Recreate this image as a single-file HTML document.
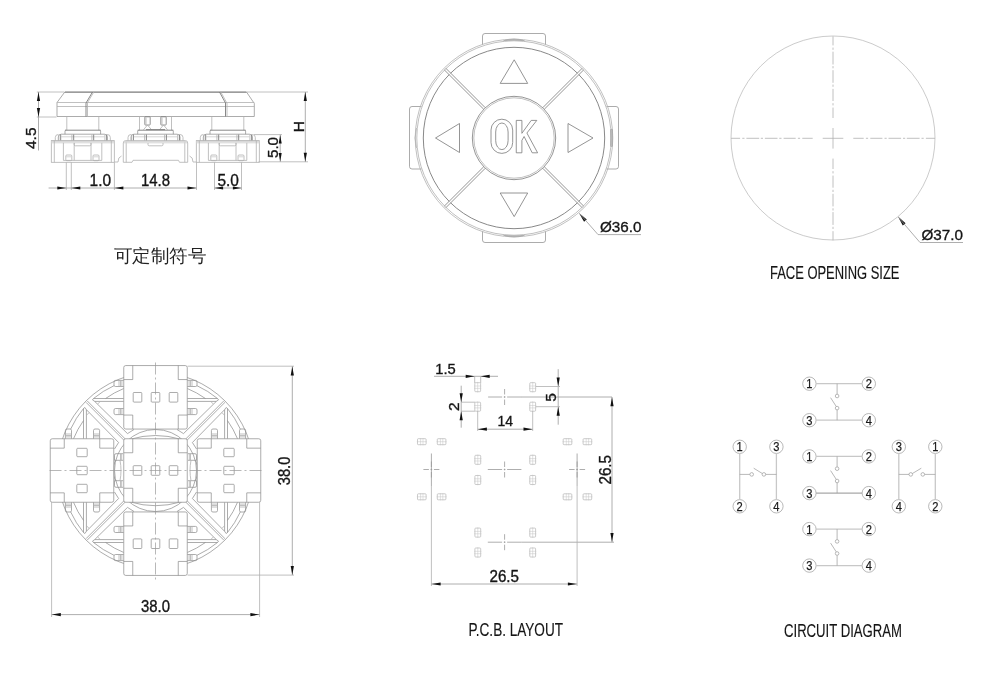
<!DOCTYPE html>
<html><head><meta charset="utf-8"><style>
html,body{margin:0;padding:0;background:#fff;width:1000px;height:676px;overflow:hidden}
svg{display:block;will-change:transform}
.ln,.lm,.ld,.lf,.lf2,.lf3,.cl,.cl2,.okt,.wh,.lp,.lp2,.lc,.lcc,.lw{fill:none}
.lp{stroke:#b4b4b4;stroke-width:0.7}
.lp2{stroke:#c4c4c4;stroke-width:0.5}
.lc{stroke:#999;stroke-width:0.8}
.lcc{stroke:#a0a0a0;stroke-width:0.75}
.lw2{fill:none;stroke:#a8a8a8;stroke-width:1.4}
.lw{stroke:#c8c8c8;stroke-width:1.3}
.lf3{stroke:#d4d4d4;stroke-width:1}
.lfc{fill:none;stroke:#b4b4b4;stroke-width:0.7}
.lbump{fill:#bbb;stroke:#999;stroke-width:0.5}
.tn{font-family:"Liberation Sans",sans-serif;fill:#1a1a1a;stroke:#1a1a1a;stroke-width:0.25}
.sw{fill:#fff;stroke:#888;stroke-width:0.7}
.cl2{stroke:#999;stroke-width:0.7;stroke-dasharray:12 3 2 3}
.wh{stroke:#fff;stroke-width:1.6}
.ln{stroke:#888;stroke-width:0.7}
.lm{stroke:#7a7a7a;stroke-width:0.8}
.ld{stroke:#7a7a7a;stroke-width:0.9}
.lf{stroke:#b0b0b0;stroke-width:0.8}
.lf2{stroke:#999;stroke-width:0.8}
.cl{stroke:#b0b0b0;stroke-width:0.8}
.ar{fill:#111;stroke:none}
.tx,.tt{font-family:"Liberation Sans",sans-serif;fill:#151515;stroke:#151515;stroke-width:0.35}
.tt{stroke-width:0.15}
.tc{font-family:"Liberation Serif",serif;fill:#222}
.okt{font-family:"Liberation Sans",sans-serif;stroke:#888;stroke-width:0.7}
</style></head><body>
<svg width="1000" height="676" viewBox="0 0 1000 676">
<path class="ln" d="M482.5 44.5 V36 Q482.5 33.5 485 33.5 H543 Q545.5 33.5 545.5 36 V44.5"/>
<path class="ln" d="M482.5 231.5 V240 Q482.5 242.5 485 242.5 H543 Q545.5 242.5 545.5 240 V231.5"/>
<path class="ln" d="M421.5 106.5 H412 Q409.5 106.5 409.5 109 V166.5 Q409.5 169 412 169 H421.5"/>
<path class="ln" d="M606.5 106.5 H616 Q618.5 106.5 618.5 109 V166.5 Q618.5 169 616 169 H606.5"/>
<circle class="lf" cx="514" cy="138" r="97.2"/>
<circle class="lf" cx="514" cy="138" r="98.8"/>
<path class="lbump" d="M503.5 40.8 Q514 37 524.5 40.8 Q514 39.6 503.5 40.8 Z"/>
<path class="lbump" d="M503.5 235.2 Q514 239 524.5 235.2 Q514 236.4 503.5 235.2 Z"/>
<rect class="lbump" x="610.6" y="129" width="1.9" height="17.6" rx="0.9"/>
<path class="lf" d="M416.5 128 Q413.6 138 416.5 148"/>
<circle class="ld" cx="514" cy="138" r="90.7"/>
<line class="wh" x1="543.7" y1="167.7" x2="582.24" y2="206.24"/>
<line class="lm" x1="544.26" y1="166.71" x2="583.72" y2="206.17"/>
<line class="lm" x1="542.71" y1="168.26" x2="582.17" y2="207.72"/>
<line class="wh" x1="484.3" y1="167.7" x2="445.76" y2="206.24"/>
<line class="lm" x1="485.29" y1="168.26" x2="445.83" y2="207.72"/>
<line class="lm" x1="483.74" y1="166.71" x2="444.28" y2="206.17"/>
<line class="wh" x1="484.3" y1="108.3" x2="445.76" y2="69.76"/>
<line class="lm" x1="483.74" y1="109.29" x2="444.28" y2="69.83"/>
<line class="lm" x1="485.29" y1="107.74" x2="445.83" y2="68.28"/>
<line class="wh" x1="543.7" y1="108.3" x2="582.24" y2="69.76"/>
<line class="lm" x1="542.71" y1="107.74" x2="582.17" y2="68.28"/>
<line class="lm" x1="544.26" y1="109.29" x2="583.72" y2="69.83"/>
<circle class="lm" cx="514" cy="138" r="41.7"/>
<circle class="lf" cx="514" cy="138" r="40.2"/>
<path class="lm" d="M514.2 59.8 L527.7 83.4 L500.2 83.4 Z"/>
<path class="lm" d="M514.2 216.6 L527.7 193 L500.2 193 Z"/>
<path class="lm" d="M435.5 138 L459.5 123.5 L459.5 152.5 Z"/>
<path class="lm" d="M593 138 L568 123.5 L568 152.5 Z"/>
<rect class="lm" x="491" y="119.2" width="21.7" height="34.2" rx="10.85"/>
<rect class="lm" x="495.7" y="123" width="12.4" height="26.6" rx="6.2" ry="9"/>
<path class="lm" d="M516.25 120.4 L521.9 120.4 L521.9 133.3 L531.2 120.4 L536.8 120.4 L526.9 133 L537.6 152.8 L532.2 152.8 L524.1 136.5 L521.9 140.4 L521.9 152.8 L516.25 152.8 Z"/>
<path class="ar" d="M579 213 L586.81 219.5 L584.05 221.82 Z"/>
<path class="lf2" d="M580 214 L598 234.6 L641 234.6"/>
<text class="tx" x="600" y="232.4" font-size="15.5" textLength="41.5" lengthAdjust="spacingAndGlyphs">Ø36.0</text>
<circle class="lfc" cx="833" cy="138" r="102"/>
<line class="cl" x1="822.7" y1="138.3" x2="843.3" y2="138.3"/>
<line class="cl" x1="833" y1="128" x2="833" y2="148.6"/>
<line class="cl" x1="853.3" y1="138.3" x2="863.7" y2="138.3"/>
<line class="cl" x1="833" y1="158.6" x2="833" y2="169"/>
<line class="cl" x1="812.7" y1="138.3" x2="802.3" y2="138.3"/>
<line class="cl" x1="833" y1="118" x2="833" y2="107.6"/>
<line class="cl" x1="865.9" y1="138.3" x2="868.1" y2="138.3"/>
<line class="cl" x1="833" y1="171.2" x2="833" y2="173.4"/>
<line class="cl" x1="800.1" y1="138.3" x2="797.9" y2="138.3"/>
<line class="cl" x1="833" y1="105.4" x2="833" y2="103.2"/>
<line class="cl" x1="870.3" y1="138.3" x2="882.4" y2="138.3"/>
<line class="cl" x1="833" y1="175.6" x2="833" y2="187.7"/>
<line class="cl" x1="795.7" y1="138.3" x2="783.6" y2="138.3"/>
<line class="cl" x1="833" y1="101" x2="833" y2="88.9"/>
<line class="cl" x1="884.5" y1="138.3" x2="886.7" y2="138.3"/>
<line class="cl" x1="833" y1="189.8" x2="833" y2="192"/>
<line class="cl" x1="781.5" y1="138.3" x2="779.3" y2="138.3"/>
<line class="cl" x1="833" y1="86.8" x2="833" y2="84.6"/>
<line class="cl" x1="888.5" y1="138.3" x2="901.1" y2="138.3"/>
<line class="cl" x1="833" y1="193.8" x2="833" y2="206.4"/>
<line class="cl" x1="777.5" y1="138.3" x2="764.9" y2="138.3"/>
<line class="cl" x1="833" y1="82.8" x2="833" y2="70.2"/>
<line class="cl" x1="903" y1="138.3" x2="905.2" y2="138.3"/>
<line class="cl" x1="833" y1="208.3" x2="833" y2="210.5"/>
<line class="cl" x1="763" y1="138.3" x2="760.8" y2="138.3"/>
<line class="cl" x1="833" y1="68.3" x2="833" y2="66.1"/>
<line class="cl" x1="906.8" y1="138.3" x2="919.6" y2="138.3"/>
<line class="cl" x1="833" y1="212.1" x2="833" y2="224.9"/>
<line class="cl" x1="759.2" y1="138.3" x2="746.4" y2="138.3"/>
<line class="cl" x1="833" y1="64.5" x2="833" y2="51.7"/>
<line class="cl" x1="921.5" y1="138.3" x2="923.7" y2="138.3"/>
<line class="cl" x1="833" y1="226.8" x2="833" y2="229"/>
<line class="cl" x1="744.5" y1="138.3" x2="742.3" y2="138.3"/>
<line class="cl" x1="833" y1="49.8" x2="833" y2="47.6"/>
<line class="cl" x1="925.9" y1="138.3" x2="935" y2="138.3"/>
<line class="cl" x1="833" y1="231.2" x2="833" y2="240.3"/>
<line class="cl" x1="740.1" y1="138.3" x2="731" y2="138.3"/>
<line class="cl" x1="833" y1="45.4" x2="833" y2="36.3"/>
<path class="ar" d="M898 216.5 L905.58 223.27 L902.74 225.49 Z"/>
<path class="lf2" d="M899 218 L920 242.5 L963 242.5"/>
<text class="tx" x="921.5" y="240" font-size="15.5" textLength="41.5" lengthAdjust="spacingAndGlyphs">Ø37.0</text>
<text class="tt" x="770" y="278.5" font-size="18" textLength="129.5" lengthAdjust="spacingAndGlyphs">FACE OPENING SIZE</text>
<path class="ln" d="M64.8 92 H246.5 L254.3 103.5 V116.5 H57 V102.5 Z"/>
<line class="lf" x1="57" y1="102.5" x2="254.3" y2="102.5"/>
<line class="lf" x1="57" y1="106.5" x2="254.3" y2="106.5"/>
<line class="ld" x1="64.8" y1="92.2" x2="246.5" y2="92.2"/>
<path class="ld" d="M92.5 92 L86 103"/>
<path class="lf" d="M93.8 92 L87.3 103"/>
<line class="ld" x1="86" y1="103" x2="86" y2="116.5"/>
<line class="lf" x1="87.5" y1="103" x2="87.5" y2="116.5"/>
<path class="ld" d="M219.5 92 L225.5 103"/>
<path class="lf" d="M220.8 92 L226.8 103"/>
<line class="ld" x1="225.5" y1="103" x2="225.5" y2="116.5"/>
<line class="lf" x1="227" y1="103" x2="227" y2="116.5"/>
<line class="lf" x1="66.8" y1="116.5" x2="66.8" y2="130.3"/>
<line class="lf" x1="98.8" y1="116.5" x2="98.8" y2="130.3"/>
<line class="ld" x1="65" y1="130.2" x2="100.6" y2="130.2"/>
<path class="ln" d="M65 134.2 V131 Q65 130.3 65.8 130.3 M99.8 130.3 Q100.6 130.3 100.6 131 V134.2"/>
<path class="ln" d="M58.3 140.6 V137 Q58.3 134.2 61.3 134.2 H104.3 Q107.3 134.2 107.3 137 V140.6"/>
<path class="lf" d="M55.3 140.6 V137.5 Q55.3 134.5 58.3 134.5"/>
<path class="lf" d="M110.3 140.6 V137.5 Q110.3 134.5 107.3 134.5"/>
<line class="lf3" x1="61.3" y1="136.8" x2="104.3" y2="136.8"/>
<line class="lf" x1="58.9" y1="134.5" x2="58.9" y2="140.6"/>
<line class="ld" x1="60.7" y1="134.5" x2="60.7" y2="140.6"/>
<line class="lf" x1="71.9" y1="134.5" x2="71.9" y2="140.6"/>
<line class="ld" x1="73.7" y1="134.5" x2="73.7" y2="140.6"/>
<line class="lf" x1="91.9" y1="134.5" x2="91.9" y2="140.6"/>
<line class="ld" x1="93.7" y1="134.5" x2="93.7" y2="140.6"/>
<line class="lf" x1="104.9" y1="134.5" x2="104.9" y2="140.6"/>
<line class="ld" x1="106.7" y1="134.5" x2="106.7" y2="140.6"/>
<rect class="lf" x="51.3" y="140.6" width="63" height="21.7"/>
<line class="lf3" x1="51.3" y1="142.8" x2="114.3" y2="142.8"/>
<line class="lf3" x1="51.3" y1="141.6" x2="114.3" y2="141.6"/>
<line class="lf" x1="54.3" y1="140.6" x2="54.3" y2="162.3"/>
<line class="lf" x1="111.3" y1="140.6" x2="111.3" y2="162.3"/>
<line class="lf" x1="63.4" y1="142.8" x2="63.4" y2="160.4"/>
<line class="lf" x1="74.2" y1="142.8" x2="74.2" y2="160.4"/>
<line class="lf" x1="91" y1="142.8" x2="91" y2="160.4"/>
<line class="lf" x1="101.8" y1="142.8" x2="101.8" y2="160.4"/>
<line class="lf" x1="63.4" y1="160.4" x2="101.8" y2="160.4"/>
<path class="lf" d="M74.2 143 V144.6 Q74.2 145.8 75.4 145.8 H89.8 Q91 145.8 91 144.6 V143"/>
<rect class="lf" x="65.8" y="155" width="6" height="5.7" rx="1"/>
<line class="lf3" x1="65.8" y1="156.8" x2="71.8" y2="156.8"/>
<rect class="lf" x="93" y="155" width="6" height="5.7" rx="1"/>
<line class="lf3" x1="93" y1="156.8" x2="99" y2="156.8"/>
<line class="lf" x1="139.5" y1="116.5" x2="139.5" y2="130.3"/>
<line class="lf" x1="171.5" y1="116.5" x2="171.5" y2="130.3"/>
<line class="ld" x1="137.7" y1="130.2" x2="173.3" y2="130.2"/>
<path class="ln" d="M137.7 134.2 V131 Q137.7 130.3 138.5 130.3 M172.5 130.3 Q173.3 130.3 173.3 131 V134.2"/>
<path class="ln" d="M131 140.6 V137 Q131 134.2 134 134.2 H177 Q180 134.2 180 137 V140.6"/>
<path class="lf" d="M128 140.6 V137.5 Q128 134.5 131 134.5"/>
<path class="lf" d="M183 140.6 V137.5 Q183 134.5 180 134.5"/>
<line class="lf3" x1="134" y1="136.8" x2="177" y2="136.8"/>
<line class="lf" x1="131.6" y1="134.5" x2="131.6" y2="140.6"/>
<line class="ld" x1="133.4" y1="134.5" x2="133.4" y2="140.6"/>
<line class="lf" x1="144.6" y1="134.5" x2="144.6" y2="140.6"/>
<line class="ld" x1="146.4" y1="134.5" x2="146.4" y2="140.6"/>
<line class="lf" x1="164.6" y1="134.5" x2="164.6" y2="140.6"/>
<line class="ld" x1="166.4" y1="134.5" x2="166.4" y2="140.6"/>
<line class="lf" x1="177.6" y1="134.5" x2="177.6" y2="140.6"/>
<line class="ld" x1="179.4" y1="134.5" x2="179.4" y2="140.6"/>
<path class="lf" d="M123.3 162.3 V143 Q123.3 140.6 125.7 140.6 H185.3 Q187.7 140.6 187.7 143 V162.3 H179.5 L178.5 160.3 H133 L132 162.3 Z"/>
<line class="lf" x1="126.2" y1="141.5" x2="126.2" y2="162.3"/>
<line class="lf" x1="184.8" y1="141.5" x2="184.8" y2="162.3"/>
<line class="lf3" x1="124" y1="142.8" x2="187" y2="142.8"/>
<line class="lf3" x1="124" y1="141.6" x2="187" y2="141.6"/>
<path class="lf" d="M148 143 V144.6 Q148 145.8 149.2 145.8 H161.8 Q163 145.8 163 144.6 V143"/>
<line class="lf" x1="211.8" y1="116.5" x2="211.8" y2="130.3"/>
<line class="lf" x1="243.8" y1="116.5" x2="243.8" y2="130.3"/>
<line class="ld" x1="210" y1="130.2" x2="245.6" y2="130.2"/>
<path class="ln" d="M210 134.2 V131 Q210 130.3 210.8 130.3 M244.8 130.3 Q245.6 130.3 245.6 131 V134.2"/>
<path class="ln" d="M203.3 140.6 V137 Q203.3 134.2 206.3 134.2 H249.3 Q252.3 134.2 252.3 137 V140.6"/>
<path class="lf" d="M200.3 140.6 V137.5 Q200.3 134.5 203.3 134.5"/>
<path class="lf" d="M255.3 140.6 V137.5 Q255.3 134.5 252.3 134.5"/>
<line class="lf3" x1="206.3" y1="136.8" x2="249.3" y2="136.8"/>
<line class="lf" x1="203.9" y1="134.5" x2="203.9" y2="140.6"/>
<line class="ld" x1="205.7" y1="134.5" x2="205.7" y2="140.6"/>
<line class="lf" x1="216.9" y1="134.5" x2="216.9" y2="140.6"/>
<line class="ld" x1="218.7" y1="134.5" x2="218.7" y2="140.6"/>
<line class="lf" x1="236.9" y1="134.5" x2="236.9" y2="140.6"/>
<line class="ld" x1="238.7" y1="134.5" x2="238.7" y2="140.6"/>
<line class="lf" x1="249.9" y1="134.5" x2="249.9" y2="140.6"/>
<line class="ld" x1="251.7" y1="134.5" x2="251.7" y2="140.6"/>
<rect class="lf" x="196.3" y="140.6" width="63" height="21.7"/>
<line class="lf3" x1="196.3" y1="142.8" x2="259.3" y2="142.8"/>
<line class="lf3" x1="196.3" y1="141.6" x2="259.3" y2="141.6"/>
<line class="lf" x1="199.3" y1="140.6" x2="199.3" y2="162.3"/>
<line class="lf" x1="256.3" y1="140.6" x2="256.3" y2="162.3"/>
<line class="lf" x1="208.4" y1="142.8" x2="208.4" y2="160.4"/>
<line class="lf" x1="219.2" y1="142.8" x2="219.2" y2="160.4"/>
<line class="lf" x1="236" y1="142.8" x2="236" y2="160.4"/>
<line class="lf" x1="246.8" y1="142.8" x2="246.8" y2="160.4"/>
<line class="lf" x1="208.4" y1="160.4" x2="246.8" y2="160.4"/>
<path class="lf" d="M219.2 143 V144.6 Q219.2 145.8 220.4 145.8 H234.8 Q236 145.8 236 144.6 V143"/>
<rect class="lf" x="210.8" y="155" width="6" height="5.7" rx="1"/>
<line class="lf3" x1="210.8" y1="156.8" x2="216.8" y2="156.8"/>
<rect class="lf" x="238" y="155" width="6" height="5.7" rx="1"/>
<line class="lf3" x1="238" y1="156.8" x2="244" y2="156.8"/>
<rect class="lm" x="144.8" y="116.8" width="5.4" height="8.2" rx="0.6"/>
<line class="lf" x1="146" y1="117.5" x2="146" y2="124.5"/>
<path class="lf" d="M143 130.3 L147.5 125 L152 130.3"/>
<rect class="lm" x="160.8" y="116.8" width="5.4" height="8.2" rx="0.6"/>
<line class="lf" x1="162" y1="117.5" x2="162" y2="124.5"/>
<path class="lf" d="M159 130.3 L163.5 125 L168 130.3"/>
<line class="ld" x1="146" y1="129.6" x2="165" y2="129.6"/>
<path class="lf" d="M114.4 162 H118 Q118 157 121.5 156"/>
<path class="lf" d="M196.5 162 H193 Q193 157 189.5 156"/>
<line class="lf" x1="66.3" y1="162.3" x2="66.3" y2="190"/>
<line class="lf" x1="71.3" y1="162.3" x2="71.3" y2="190"/>
<line class="lf" x1="36.8" y1="92" x2="64" y2="92"/>
<line class="lf" x1="36.8" y1="117" x2="56.5" y2="117"/>
<line class="lf2" x1="38.5" y1="92" x2="38.5" y2="150.5"/>
<path class="ar" d="M38.5 92 L40.1 101 L36.9 101 Z"/>
<path class="ar" d="M38.5 117 L36.9 108 L40.1 108 Z"/>
<text class="tx" x="36.2" y="149" font-size="15.5" textLength="21.5" lengthAdjust="spacingAndGlyphs" transform="rotate(-90 36.2 149)">4.5</text>
<line class="lf" x1="247" y1="92" x2="308" y2="92"/>
<line class="lf" x1="258.5" y1="161.8" x2="308" y2="161.8"/>
<line class="lf2" x1="305.3" y1="92" x2="305.3" y2="161.8"/>
<path class="ar" d="M305.3 92 L306.9 101 L303.7 101 Z"/>
<path class="ar" d="M305.3 161.8 L303.7 152.8 L306.9 152.8 Z"/>
<text class="tx" x="303.6" y="132.2" font-size="15.5" transform="rotate(-90 303.6 132.2)">H</text>
<line class="lf" x1="254" y1="134.6" x2="282" y2="134.6"/>
<line class="lf2" x1="280.2" y1="134.6" x2="280.2" y2="161.8"/>
<path class="ar" d="M280.2 135 L281.7 143.5 L278.7 143.5 Z"/>
<path class="ar" d="M280.2 161.4 L278.7 152.9 L281.7 152.9 Z"/>
<text class="tx" x="277.8" y="158" font-size="15.5" textLength="21" lengthAdjust="spacingAndGlyphs" transform="rotate(-90 277.8 158)">5.0</text>
<line class="lf" x1="114.4" y1="162.3" x2="114.4" y2="190"/>
<line class="lf" x1="196.5" y1="162.3" x2="196.5" y2="190"/>
<line class="lf" x1="214.5" y1="162.3" x2="214.5" y2="190"/>
<line class="lf" x1="241.5" y1="162.3" x2="241.5" y2="190"/>
<line class="lf2" x1="48.6" y1="188" x2="196.5" y2="188"/>
<path class="ar" d="M66.3 188 L57.3 189.6 L57.3 186.4 Z"/>
<path class="ar" d="M71.3 188 L80.3 186.4 L80.3 189.6 Z"/>
<path class="ar" d="M114.4 188 L123.4 186.4 L123.4 189.6 Z"/>
<path class="ar" d="M196.5 188 L187.5 189.6 L187.5 186.4 Z"/>
<line class="lf2" x1="214.5" y1="188" x2="241.5" y2="188"/>
<path class="ar" d="M214.5 188 L223.1 186.4 L223.1 189.6 Z"/>
<path class="ar" d="M241.5 188 L232.9 189.6 L232.9 186.4 Z"/>
<text class="tx" x="89.6" y="185.7" font-size="16" textLength="21.5" lengthAdjust="spacingAndGlyphs">1.0</text>
<text class="tx" x="141" y="185.7" font-size="16" textLength="29" lengthAdjust="spacingAndGlyphs">14.8</text>
<text class="tx" x="217.4" y="185.6" font-size="16" textLength="21.5" lengthAdjust="spacingAndGlyphs">5.0</text>
<g transform="translate(155.5 470.5)">
<defs><g id="oct">
<line class="ln" x1="-72" y1="-62" x2="-72" y2="-31.75"/>
<line class="ln" x1="-69.1" y1="-60.8" x2="-69.1" y2="-31.75"/>
<path class="ln" d="M-72 -62 L-70.6 -63 L-69.1 -60.8"/>
<path class="ln" d="M-69.1 -60.8 L-36.9 -28 L-41 -21.5"/>
<line class="lf" x1="-68.8" y1="-55.5" x2="-66.5" y2="-57.8"/>
<path class="ln" d="M-69.5 -68.2 L-30.6 -29.3"/>
<path class="ln" d="M-72 -62 A94.3 94.3 0 0 0 -84.8 -41.5"/>
<path class="ln" d="M-72 -49.9 A87.7 87.7 0 0 0 -82 -31.75"/>
<path class="ln" d="M-90.1 -31.75 V-40 Q-90.1 -41.5 -88.6 -41.5 H-85.5 Q-84 -41.5 -84 -40 V-31.75"/>
<line class="lf" x1="-90.1" y1="-36.5" x2="-84" y2="-36.5"/>
<line class="lf" x1="-90.1" y1="-35" x2="-84" y2="-35"/>
<line class="lf" x1="-90.1" y1="-33.6" x2="-84" y2="-33.6"/>
<path class="ln" d="M-62 -31.75 V-40 Q-62 -41.5 -60.5 -41.5 H-57.4 Q-55.9 -41.5 -55.9 -40 V-31.75"/>
<line class="lf" x1="-62" y1="-36.5" x2="-55.9" y2="-36.5"/>
<line class="lf" x1="-62" y1="-35" x2="-55.9" y2="-35"/>
<line class="lf" x1="-62" y1="-33.6" x2="-55.9" y2="-33.6"/>
</g>
<g id="cclip">
<path class="ln" d="M-32.5 -16.8 H-39.5 Q-41 -16.8 -41 -15.3 V-10.2 H-32.5"/>
<line class="lf" x1="-35" y1="-16.5" x2="-35" y2="-10.5"/>
<line class="lf" x1="-33.8" y1="-16.5" x2="-33.8" y2="-10.5"/>
<path class="ln" d="M-40.3 -10.2 Q-42 -5 -42 0"/>
<path class="lf" d="M-35.5 -10.2 Q-34.5 -5 -34.5 0"/>
</g></defs>
<use href="#cclip" transform=""/>
<use href="#cclip" transform="matrix(1 0 0 -1 0 0)"/>
<use href="#cclip" transform="rotate(180)"/>
<use href="#cclip" transform="rotate(180) matrix(1 0 0 -1 0 0)"/>
<use href="#oct" transform="rotate(0)"/>
<use href="#oct" transform="rotate(0) matrix(0 1 1 0 0 0)"/>
<use href="#oct" transform="rotate(90)"/>
<use href="#oct" transform="rotate(90) matrix(0 1 1 0 0 0)"/>
<use href="#oct" transform="rotate(180)"/>
<use href="#oct" transform="rotate(180) matrix(0 1 1 0 0 0)"/>
<use href="#oct" transform="rotate(270)"/>
<use href="#oct" transform="rotate(270) matrix(0 1 1 0 0 0)"/>
<circle class="ln" cx="0" cy="0" r="98.3"/>
<circle class="ln" cx="0" cy="0" r="41"/>
<path class="ln" d="M-25 -31.3 Q0 -38.7 25 -31.3"/>
<path class="ln" d="M-25 31.5 Q0 38.9 25 31.5"/>
<g transform="translate(-73.5 0)">
<rect class="sw" x="-31.75" y="-31.75" width="63.5" height="63.5" rx="2"/>
<path class="ln" d="M-17.75 -31.75 L-17.75 -22.35 L-31.75 -22.35"/>
<path class="ln" d="M-17.75 31.75 L-17.75 22.35 L-31.75 22.35"/>
<path class="ln" d="M17.75 -31.75 L17.75 -22.35 L31.75 -22.35"/>
<path class="ln" d="M17.75 31.75 L17.75 22.35 L31.75 22.35"/>
<rect class="ln" x="-5.2" y="-22.2" width="10.4" height="8.4" rx="0.8"/>
<rect class="ln" x="-5.2" y="-4.2" width="10.4" height="8.4" rx="0.8"/>
<rect class="ln" x="-5.2" y="13.8" width="10.4" height="8.4" rx="0.8"/>
</g>
<g transform="translate(73.5 0)">
<rect class="sw" x="-31.75" y="-31.75" width="63.5" height="63.5" rx="2"/>
<path class="ln" d="M-17.75 -31.75 L-17.75 -22.35 L-31.75 -22.35"/>
<path class="ln" d="M-17.75 31.75 L-17.75 22.35 L-31.75 22.35"/>
<path class="ln" d="M17.75 -31.75 L17.75 -22.35 L31.75 -22.35"/>
<path class="ln" d="M17.75 31.75 L17.75 22.35 L31.75 22.35"/>
<rect class="ln" x="-5.2" y="-22.2" width="10.4" height="8.4" rx="0.8"/>
<rect class="ln" x="-5.2" y="-4.2" width="10.4" height="8.4" rx="0.8"/>
<rect class="ln" x="-5.2" y="13.8" width="10.4" height="8.4" rx="0.8"/>
</g>
<g transform="translate(0 -73.2)">
<rect class="sw" x="-31.75" y="-31.75" width="63.5" height="63.5" rx="2"/>
<path class="ln" d="M-22.75 -31.75 L-22.75 -17.75 L-31.75 -17.75"/>
<path class="ln" d="M-22.75 31.75 L-22.75 17.75 L-31.75 17.75"/>
<path class="ln" d="M22.75 -31.75 L22.75 -17.75 L31.75 -17.75"/>
<path class="ln" d="M22.75 31.75 L22.75 17.75 L31.75 17.75"/>
<rect class="ln" x="-22.3" y="-4.8" width="8.6" height="9.6" rx="0.8"/>
<rect class="ln" x="-4.3" y="-4.8" width="8.6" height="9.6" rx="0.8"/>
<rect class="ln" x="13.7" y="-4.8" width="8.6" height="9.6" rx="0.8"/>
</g>
<g transform="translate(0 73.2)">
<rect class="sw" x="-31.75" y="-31.75" width="63.5" height="63.5" rx="2"/>
<path class="ln" d="M-22.75 -31.75 L-22.75 -17.75 L-31.75 -17.75"/>
<path class="ln" d="M-22.75 31.75 L-22.75 17.75 L-31.75 17.75"/>
<path class="ln" d="M22.75 -31.75 L22.75 -17.75 L31.75 -17.75"/>
<path class="ln" d="M22.75 31.75 L22.75 17.75 L31.75 17.75"/>
<rect class="ln" x="-22.3" y="-4.8" width="8.6" height="9.6" rx="0.8"/>
<rect class="ln" x="-4.3" y="-4.8" width="8.6" height="9.6" rx="0.8"/>
<rect class="ln" x="13.7" y="-4.8" width="8.6" height="9.6" rx="0.8"/>
</g>
<g transform="translate(0 0)">
<rect class="sw" x="-31.75" y="-31.75" width="63.5" height="63.5" rx="2"/>
<path class="ln" d="M-22.75 -31.75 L-22.75 -17.75 L-31.75 -17.75"/>
<path class="ln" d="M-22.75 31.75 L-22.75 17.75 L-31.75 17.75"/>
<path class="ln" d="M22.75 -31.75 L22.75 -17.75 L31.75 -17.75"/>
<path class="ln" d="M22.75 31.75 L22.75 17.75 L31.75 17.75"/>
<rect class="ln" x="-22.3" y="-4.8" width="8.6" height="9.6" rx="0.8"/>
<rect class="ln" x="-4.3" y="-4.8" width="8.6" height="9.6" rx="0.8"/>
<rect class="ln" x="13.7" y="-4.8" width="8.6" height="9.6" rx="0.8"/>
</g>
<line class="cl2" x1="-106" y1="0" x2="106" y2="0"/>
<line class="cl2" x1="0" y1="-108" x2="0" y2="109"/>
</g>
<line class="lf" x1="187.6" y1="366.2" x2="294" y2="366.2"/>
<line class="lf" x1="187.6" y1="575.1" x2="294" y2="575.1"/>
<line class="lf2" x1="292.3" y1="366.2" x2="292.3" y2="575.1"/>
<path class="ar" d="M292.3 366.4 L293.9 375.4 L290.7 375.4 Z"/>
<path class="ar" d="M292.3 574.9 L290.7 565.9 L293.9 565.9 Z"/>
<text class="tx" x="290.4" y="485.2" font-size="16.5" textLength="28.5" lengthAdjust="spacingAndGlyphs" transform="rotate(-90 290.4 485.2)">38.0</text>
<line class="lf" x1="51.6" y1="502" x2="51.6" y2="617"/>
<line class="lf" x1="259.6" y1="502" x2="259.6" y2="617"/>
<line class="lf2" x1="51.6" y1="614.6" x2="259.6" y2="614.6"/>
<path class="ar" d="M51.8 614.6 L60.8 613 L60.8 616.2 Z"/>
<path class="ar" d="M259.4 614.6 L250.4 616.2 L250.4 613 Z"/>
<text class="tx" x="141" y="612" font-size="16.5" textLength="29" lengthAdjust="spacingAndGlyphs">38.0</text>
<rect class="lp" x="474.8" y="382.7" width="5.8" height="9" rx="0.8"/>
<line class="lp2" x1="477.7" y1="381.9" x2="477.7" y2="392.5"/>
<line class="lp2" x1="474.1" y1="386" x2="481.3" y2="386"/>
<line class="lp2" x1="474.1" y1="388.4" x2="481.3" y2="388.4"/>
<rect class="lp" x="474.8" y="402.2" width="5.8" height="9" rx="0.8"/>
<line class="lp2" x1="477.7" y1="401.4" x2="477.7" y2="412"/>
<line class="lp2" x1="474.1" y1="405.5" x2="481.3" y2="405.5"/>
<line class="lp2" x1="474.1" y1="407.9" x2="481.3" y2="407.9"/>
<rect class="lp" x="529.8" y="382.7" width="5.8" height="9" rx="0.8"/>
<line class="lp2" x1="532.7" y1="381.9" x2="532.7" y2="392.5"/>
<line class="lp2" x1="529.1" y1="386" x2="536.3" y2="386"/>
<line class="lp2" x1="529.1" y1="388.4" x2="536.3" y2="388.4"/>
<rect class="lp" x="529.8" y="402.2" width="5.8" height="9" rx="0.8"/>
<line class="lp2" x1="532.7" y1="401.4" x2="532.7" y2="412"/>
<line class="lp2" x1="529.1" y1="405.5" x2="536.3" y2="405.5"/>
<line class="lp2" x1="529.1" y1="407.9" x2="536.3" y2="407.9"/>
<rect class="lp" x="474.9" y="455.3" width="5.8" height="9" rx="0.8"/>
<line class="lp2" x1="477.8" y1="454.5" x2="477.8" y2="465.1"/>
<line class="lp2" x1="474.2" y1="458.6" x2="481.4" y2="458.6"/>
<line class="lp2" x1="474.2" y1="461" x2="481.4" y2="461"/>
<rect class="lp" x="474.9" y="475.5" width="5.8" height="9" rx="0.8"/>
<line class="lp2" x1="477.8" y1="474.7" x2="477.8" y2="485.3"/>
<line class="lp2" x1="474.2" y1="478.8" x2="481.4" y2="478.8"/>
<line class="lp2" x1="474.2" y1="481.2" x2="481.4" y2="481.2"/>
<rect class="lp" x="529.8" y="455.3" width="5.8" height="9" rx="0.8"/>
<line class="lp2" x1="532.7" y1="454.5" x2="532.7" y2="465.1"/>
<line class="lp2" x1="529.1" y1="458.6" x2="536.3" y2="458.6"/>
<line class="lp2" x1="529.1" y1="461" x2="536.3" y2="461"/>
<rect class="lp" x="529.8" y="475.5" width="5.8" height="9" rx="0.8"/>
<line class="lp2" x1="532.7" y1="474.7" x2="532.7" y2="485.3"/>
<line class="lp2" x1="529.1" y1="478.8" x2="536.3" y2="478.8"/>
<line class="lp2" x1="529.1" y1="481.2" x2="536.3" y2="481.2"/>
<rect class="lp" x="474.9" y="528.1" width="5.8" height="9" rx="0.8"/>
<line class="lp2" x1="477.8" y1="527.3" x2="477.8" y2="537.9"/>
<line class="lp2" x1="474.2" y1="531.4" x2="481.4" y2="531.4"/>
<line class="lp2" x1="474.2" y1="533.8" x2="481.4" y2="533.8"/>
<rect class="lp" x="474.9" y="548" width="5.8" height="9" rx="0.8"/>
<line class="lp2" x1="477.8" y1="547.2" x2="477.8" y2="557.8"/>
<line class="lp2" x1="474.2" y1="551.3" x2="481.4" y2="551.3"/>
<line class="lp2" x1="474.2" y1="553.7" x2="481.4" y2="553.7"/>
<rect class="lp" x="529.8" y="528.1" width="5.8" height="9" rx="0.8"/>
<line class="lp2" x1="532.7" y1="527.3" x2="532.7" y2="537.9"/>
<line class="lp2" x1="529.1" y1="531.4" x2="536.3" y2="531.4"/>
<line class="lp2" x1="529.1" y1="533.8" x2="536.3" y2="533.8"/>
<rect class="lp" x="529.8" y="548" width="5.8" height="9" rx="0.8"/>
<line class="lp2" x1="532.7" y1="547.2" x2="532.7" y2="557.8"/>
<line class="lp2" x1="529.1" y1="551.3" x2="536.3" y2="551.3"/>
<line class="lp2" x1="529.1" y1="553.7" x2="536.3" y2="553.7"/>
<rect class="lp" x="417.5" y="438.7" width="8.6" height="6" rx="0.8"/>
<line class="lp2" x1="416.8" y1="441.7" x2="426.8" y2="441.7"/>
<line class="lp2" x1="420.6" y1="438.1" x2="420.6" y2="445.3"/>
<line class="lp2" x1="423" y1="438.1" x2="423" y2="445.3"/>
<rect class="lp" x="417.5" y="493.8" width="8.6" height="6" rx="0.8"/>
<line class="lp2" x1="416.8" y1="496.8" x2="426.8" y2="496.8"/>
<line class="lp2" x1="420.6" y1="493.2" x2="420.6" y2="500.4"/>
<line class="lp2" x1="423" y1="493.2" x2="423" y2="500.4"/>
<rect class="lp" x="437.3" y="438.7" width="8.6" height="6" rx="0.8"/>
<line class="lp2" x1="436.6" y1="441.7" x2="446.6" y2="441.7"/>
<line class="lp2" x1="440.4" y1="438.1" x2="440.4" y2="445.3"/>
<line class="lp2" x1="442.8" y1="438.1" x2="442.8" y2="445.3"/>
<rect class="lp" x="437.3" y="493.8" width="8.6" height="6" rx="0.8"/>
<line class="lp2" x1="436.6" y1="496.8" x2="446.6" y2="496.8"/>
<line class="lp2" x1="440.4" y1="493.2" x2="440.4" y2="500.4"/>
<line class="lp2" x1="442.8" y1="493.2" x2="442.8" y2="500.4"/>
<rect class="lp" x="563.2" y="438.7" width="8.6" height="6" rx="0.8"/>
<line class="lp2" x1="562.5" y1="441.7" x2="572.5" y2="441.7"/>
<line class="lp2" x1="566.3" y1="438.1" x2="566.3" y2="445.3"/>
<line class="lp2" x1="568.7" y1="438.1" x2="568.7" y2="445.3"/>
<rect class="lp" x="563.2" y="493.8" width="8.6" height="6" rx="0.8"/>
<line class="lp2" x1="562.5" y1="496.8" x2="572.5" y2="496.8"/>
<line class="lp2" x1="566.3" y1="493.2" x2="566.3" y2="500.4"/>
<line class="lp2" x1="568.7" y1="493.2" x2="568.7" y2="500.4"/>
<rect class="lp" x="583.1" y="438.7" width="8.6" height="6" rx="0.8"/>
<line class="lp2" x1="582.4" y1="441.7" x2="592.4" y2="441.7"/>
<line class="lp2" x1="586.2" y1="438.1" x2="586.2" y2="445.3"/>
<line class="lp2" x1="588.6" y1="438.1" x2="588.6" y2="445.3"/>
<rect class="lp" x="583.1" y="493.8" width="8.6" height="6" rx="0.8"/>
<line class="lp2" x1="582.4" y1="496.8" x2="592.4" y2="496.8"/>
<line class="lp2" x1="586.2" y1="493.2" x2="586.2" y2="500.4"/>
<line class="lp2" x1="588.6" y1="493.2" x2="588.6" y2="500.4"/>
<line class="lc" x1="488.1" y1="397" x2="502.1" y2="397"/>
<line class="lc" x1="507.1" y1="397" x2="521.1" y2="397"/>
<line class="lc" x1="503.8" y1="397" x2="505.4" y2="397"/>
<line class="lc" x1="504.6" y1="389" x2="504.6" y2="394.5"/>
<line class="lc" x1="504.6" y1="399.5" x2="504.6" y2="405"/>
<line class="lc" x1="504.6" y1="396.2" x2="504.6" y2="397.8"/>
<line class="lc" x1="521" y1="397" x2="612" y2="397"/>
<line class="lc" x1="487.8" y1="469.5" x2="502.1" y2="469.5"/>
<line class="lc" x1="507.1" y1="469.5" x2="521.4" y2="469.5"/>
<line class="lc" x1="503.8" y1="469.5" x2="505.4" y2="469.5"/>
<line class="lc" x1="504.6" y1="461.5" x2="504.6" y2="467"/>
<line class="lc" x1="504.6" y1="472" x2="504.6" y2="477.5"/>
<line class="lc" x1="504.6" y1="468.7" x2="504.6" y2="470.3"/>
<line class="lc" x1="487.8" y1="542.2" x2="502.1" y2="542.2"/>
<line class="lc" x1="507.1" y1="542.2" x2="521.4" y2="542.2"/>
<line class="lc" x1="503.8" y1="542.2" x2="505.4" y2="542.2"/>
<line class="lc" x1="504.6" y1="534.2" x2="504.6" y2="539.7"/>
<line class="lc" x1="504.6" y1="544.7" x2="504.6" y2="550.2"/>
<line class="lc" x1="504.6" y1="541.4" x2="504.6" y2="543"/>
<line class="lc" x1="521.4" y1="542.2" x2="614" y2="542.2"/>
<line class="lc" x1="423.4" y1="469.5" x2="428.9" y2="469.5"/>
<line class="lc" x1="433.9" y1="469.5" x2="439.4" y2="469.5"/>
<line class="lc" x1="430.6" y1="469.5" x2="432.2" y2="469.5"/>
<line class="lc" x1="431.4" y1="461.5" x2="431.4" y2="467"/>
<line class="lc" x1="431.4" y1="472" x2="431.4" y2="477.5"/>
<line class="lc" x1="431.4" y1="468.7" x2="431.4" y2="470.3"/>
<line class="lc" x1="569.1" y1="469.5" x2="574.6" y2="469.5"/>
<line class="lc" x1="579.6" y1="469.5" x2="585.1" y2="469.5"/>
<line class="lc" x1="576.3" y1="469.5" x2="577.9" y2="469.5"/>
<line class="lc" x1="577.1" y1="461.5" x2="577.1" y2="467"/>
<line class="lc" x1="577.1" y1="472" x2="577.1" y2="477.5"/>
<line class="lc" x1="577.1" y1="468.7" x2="577.1" y2="470.3"/>
<line class="lc" x1="431.4" y1="453.5" x2="431.4" y2="486"/>
<line class="lc" x1="577.1" y1="453.5" x2="577.1" y2="486"/>
<line class="lf" x1="431.4" y1="486" x2="431.4" y2="586"/>
<line class="lf" x1="577.1" y1="486" x2="577.1" y2="586"/>
<line class="lf2" x1="431.4" y1="584" x2="577.1" y2="584"/>
<path class="ar" d="M431.6 584 L440.6 582.4 L440.6 585.6 Z"/>
<path class="ar" d="M576.9 584 L567.9 585.6 L567.9 582.4 Z"/>
<text class="tx" x="489.5" y="582" font-size="16" textLength="29.5" lengthAdjust="spacingAndGlyphs">26.5</text>
<line class="lf2" x1="612" y1="397" x2="612" y2="542.2"/>
<path class="ar" d="M612 397.2 L613.6 406.2 L610.4 406.2 Z"/>
<path class="ar" d="M612 542 L610.4 533 L613.6 533 Z"/>
<text class="tx" x="610.5" y="484.5" font-size="16.5" textLength="29.5" lengthAdjust="spacingAndGlyphs" transform="rotate(-90 610.5 484.5)">26.5</text>
<line class="lf2" x1="434" y1="376.3" x2="498" y2="376.3"/>
<line class="lf" x1="474.7" y1="376.3" x2="474.7" y2="383"/>
<line class="lf" x1="480.7" y1="376.3" x2="480.7" y2="383"/>
<path class="ar" d="M474.7 376.3 L465.7 377.9 L465.7 374.7 Z"/>
<path class="ar" d="M480.7 376.3 L489.7 374.7 L489.7 377.9 Z"/>
<text class="tx" x="435.2" y="374.2" font-size="15.5" textLength="20.5" lengthAdjust="spacingAndGlyphs">1.5</text>
<line class="lf2" x1="461.2" y1="385.7" x2="461.2" y2="427.7"/>
<line class="lf" x1="461.2" y1="402.2" x2="475" y2="402.2"/>
<line class="lf" x1="461.2" y1="411.2" x2="475" y2="411.2"/>
<path class="ar" d="M461.2 402.2 L459.6 393.2 L462.8 393.2 Z"/>
<path class="ar" d="M461.2 411.2 L462.8 420.2 L459.6 420.2 Z"/>
<text class="tx" x="458.6" y="411" font-size="15.5" transform="rotate(-90 458.6 411)">2</text>
<line class="lf" x1="477.7" y1="411.2" x2="477.7" y2="431"/>
<line class="lf" x1="532.7" y1="411.2" x2="532.7" y2="431"/>
<line class="lf2" x1="477.7" y1="429.2" x2="532.7" y2="429.2"/>
<path class="ar" d="M477.9 429.2 L486.9 427.6 L486.9 430.8 Z"/>
<path class="ar" d="M532.5 429.2 L523.5 430.8 L523.5 427.6 Z"/>
<text class="tx" x="497.6" y="426.4" font-size="15.5" textLength="15.5" lengthAdjust="spacingAndGlyphs">14</text>
<line class="lf2" x1="558.2" y1="369.2" x2="558.2" y2="424.7"/>
<line class="lf" x1="536" y1="386.5" x2="560" y2="386.5"/>
<line class="lf" x1="536" y1="406.7" x2="560" y2="406.7"/>
<path class="ar" d="M558.2 386.5 L556.6 377.5 L559.8 377.5 Z"/>
<path class="ar" d="M558.2 406.7 L559.8 415.7 L556.6 415.7 Z"/>
<text class="tx" x="556.5" y="401.8" font-size="15.5" transform="rotate(-90 556.5 401.8)">5</text>
<circle class="lcc" cx="809.4" cy="383.7" r="6.7"/>
<text class="tn" x="809.4" y="388.1" font-size="12.8" textLength="6.2" lengthAdjust="spacingAndGlyphs" text-anchor="middle">1</text>
<circle class="lcc" cx="868.8" cy="383.7" r="6.7"/>
<text class="tn" x="868.8" y="388.1" font-size="12.8" textLength="6.2" lengthAdjust="spacingAndGlyphs" text-anchor="middle">2</text>
<circle class="lcc" cx="809.4" cy="420.2" r="6.7"/>
<text class="tn" x="809.4" y="424.6" font-size="12.8" textLength="6.2" lengthAdjust="spacingAndGlyphs" text-anchor="middle">3</text>
<circle class="lcc" cx="868.8" cy="420.2" r="6.7"/>
<text class="tn" x="868.8" y="424.6" font-size="12.8" textLength="6.2" lengthAdjust="spacingAndGlyphs" text-anchor="middle">4</text>
<line class="lw" x1="816.1" y1="383.7" x2="862.1" y2="383.7"/>
<line class="lw" x1="816.1" y1="420.2" x2="862.1" y2="420.2"/>
<line class="lcc" x1="837.1" y1="383.7" x2="837.1" y2="394.2"/>
<circle class="lcc" cx="837.1" cy="396" r="1.8"/>
<line class="lcc" x1="837.1" y1="420.2" x2="837.1" y2="409.9"/>
<circle class="lcc" cx="837.1" cy="408.1" r="1.8"/>
<line class="lcc" x1="836.2" y1="406.4" x2="830.6" y2="397.7"/>
<circle class="lcc" cx="809.4" cy="456.4" r="6.7"/>
<text class="tn" x="809.4" y="460.8" font-size="12.8" textLength="6.2" lengthAdjust="spacingAndGlyphs" text-anchor="middle">1</text>
<circle class="lcc" cx="868.8" cy="456.4" r="6.7"/>
<text class="tn" x="868.8" y="460.8" font-size="12.8" textLength="6.2" lengthAdjust="spacingAndGlyphs" text-anchor="middle">2</text>
<circle class="lcc" cx="809.4" cy="493.1" r="6.7"/>
<text class="tn" x="809.4" y="497.5" font-size="12.8" textLength="6.2" lengthAdjust="spacingAndGlyphs" text-anchor="middle">3</text>
<circle class="lcc" cx="868.8" cy="493.1" r="6.7"/>
<text class="tn" x="868.8" y="497.5" font-size="12.8" textLength="6.2" lengthAdjust="spacingAndGlyphs" text-anchor="middle">4</text>
<line class="lw" x1="816.1" y1="456.4" x2="862.1" y2="456.4"/>
<line class="lw2" x1="816.1" y1="493.1" x2="862.1" y2="493.1"/>
<line class="lcc" x1="837.1" y1="456.4" x2="837.1" y2="466.9"/>
<circle class="lcc" cx="837.1" cy="468.7" r="1.8"/>
<line class="lcc" x1="837.1" y1="493.1" x2="837.1" y2="482.8"/>
<circle class="lcc" cx="837.1" cy="481" r="1.8"/>
<line class="lcc" x1="836.2" y1="479.3" x2="830.6" y2="470.6"/>
<circle class="lcc" cx="809.4" cy="529.1" r="6.7"/>
<text class="tn" x="809.4" y="533.5" font-size="12.8" textLength="6.2" lengthAdjust="spacingAndGlyphs" text-anchor="middle">1</text>
<circle class="lcc" cx="868.8" cy="529.1" r="6.7"/>
<text class="tn" x="868.8" y="533.5" font-size="12.8" textLength="6.2" lengthAdjust="spacingAndGlyphs" text-anchor="middle">2</text>
<circle class="lcc" cx="809.4" cy="565.6" r="6.7"/>
<text class="tn" x="809.4" y="570" font-size="12.8" textLength="6.2" lengthAdjust="spacingAndGlyphs" text-anchor="middle">3</text>
<circle class="lcc" cx="868.8" cy="565.6" r="6.7"/>
<text class="tn" x="868.8" y="570" font-size="12.8" textLength="6.2" lengthAdjust="spacingAndGlyphs" text-anchor="middle">4</text>
<line class="lw" x1="816.1" y1="529.1" x2="862.1" y2="529.1"/>
<line class="lw" x1="816.1" y1="565.6" x2="862.1" y2="565.6"/>
<line class="lcc" x1="837.1" y1="529.1" x2="837.1" y2="539.6"/>
<circle class="lcc" cx="837.1" cy="541.4" r="1.8"/>
<line class="lcc" x1="837.1" y1="565.6" x2="837.1" y2="555.3"/>
<circle class="lcc" cx="837.1" cy="553.5" r="1.8"/>
<line class="lcc" x1="836.2" y1="551.8" x2="830.6" y2="543.1"/>
<circle class="lcc" cx="739.7" cy="446.8" r="6.7"/>
<text class="tn" x="739.7" y="451.2" font-size="12.8" textLength="6.2" lengthAdjust="spacingAndGlyphs" text-anchor="middle">1</text>
<circle class="lcc" cx="739.7" cy="506.3" r="6.7"/>
<text class="tn" x="739.7" y="510.7" font-size="12.8" textLength="6.2" lengthAdjust="spacingAndGlyphs" text-anchor="middle">2</text>
<circle class="lcc" cx="776.4" cy="446.8" r="6.7"/>
<text class="tn" x="776.4" y="451.2" font-size="12.8" textLength="6.2" lengthAdjust="spacingAndGlyphs" text-anchor="middle">3</text>
<circle class="lcc" cx="776.4" cy="506.3" r="6.7"/>
<text class="tn" x="776.4" y="510.7" font-size="12.8" textLength="6.2" lengthAdjust="spacingAndGlyphs" text-anchor="middle">4</text>
<line class="lw" x1="739.7" y1="453.5" x2="739.7" y2="499.6"/>
<line class="lw" x1="776.4" y1="453.5" x2="776.4" y2="499.6"/>
<line class="lcc" x1="739.7" y1="474.4" x2="749.9" y2="474.4"/>
<circle class="lcc" cx="751.7" cy="474.4" r="1.8"/>
<circle class="lcc" cx="763.9" cy="474.4" r="1.8"/>
<line class="lcc" x1="765.7" y1="474.4" x2="776.4" y2="474.4"/>
<line class="lcc" x1="762.3" y1="473.5" x2="753.7" y2="468.2"/>
<circle class="lcc" cx="898.8" cy="446.8" r="6.7"/>
<text class="tn" x="898.8" y="451.2" font-size="12.8" textLength="6.2" lengthAdjust="spacingAndGlyphs" text-anchor="middle">3</text>
<circle class="lcc" cx="898.8" cy="506.3" r="6.7"/>
<text class="tn" x="898.8" y="510.7" font-size="12.8" textLength="6.2" lengthAdjust="spacingAndGlyphs" text-anchor="middle">4</text>
<circle class="lcc" cx="935.3" cy="446.8" r="6.7"/>
<text class="tn" x="935.3" y="451.2" font-size="12.8" textLength="6.2" lengthAdjust="spacingAndGlyphs" text-anchor="middle">1</text>
<circle class="lcc" cx="935.3" cy="506.3" r="6.7"/>
<text class="tn" x="935.3" y="510.7" font-size="12.8" textLength="6.2" lengthAdjust="spacingAndGlyphs" text-anchor="middle">2</text>
<line class="lw" x1="898.8" y1="453.5" x2="898.8" y2="499.6"/>
<line class="lw" x1="935.3" y1="453.5" x2="935.3" y2="499.6"/>
<line class="lcc" x1="898.8" y1="474.4" x2="909" y2="474.4"/>
<circle class="lcc" cx="910.8" cy="474.4" r="1.8"/>
<circle class="lcc" cx="922.8" cy="474.4" r="1.8"/>
<line class="lcc" x1="924.6" y1="474.4" x2="935.3" y2="474.4"/>
<line class="lcc" x1="912.4" y1="473.5" x2="921.3" y2="468.2"/>
<text class="tt" x="468.5" y="635.9" font-size="18" textLength="94.5" lengthAdjust="spacingAndGlyphs">P.C.B. LAYOUT</text>
<text class="tt" x="784" y="637.2" font-size="18" textLength="118" lengthAdjust="spacingAndGlyphs">CIRCUIT DIAGRAM</text>
<text class="tc" x="113.5" y="262" font-size="18.4" textLength="92.5" lengthAdjust="spacingAndGlyphs">可定制符号</text>
</svg>
</body></html>
